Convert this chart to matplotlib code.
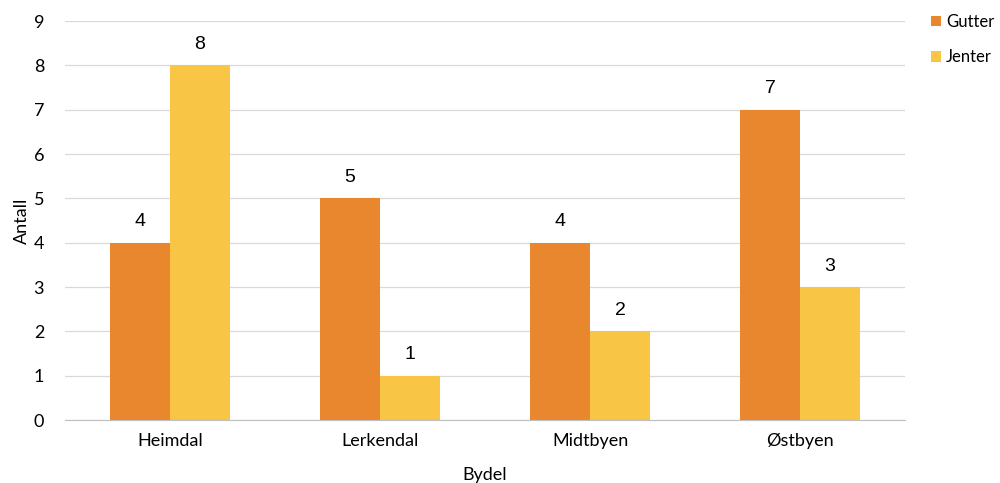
import numpy as np
import matplotlib.pyplot as plt

# data
bydeler = ["Heimdal", "Lerkendal", "Midtbyen", "Østbyen"]
gutter = [4, 5, 4, 7]
jenter = [8, 1, 2, 3]

orange = "#E8872D"
yellow = "#F8C544"
fs = 13

fig = plt.figure(figsize=(10, 4.83), dpi=100)
ax = fig.add_axes([0.065, 0.1304, 0.84, 0.8261])

x = np.arange(len(bydeler))
w = 0.2857
b1 = ax.bar(x - w / 2, gutter, w, color=orange, label="Gutter")
b2 = ax.bar(x + w / 2, jenter, w, color=yellow, label="Jenter")

for bars in (b1, b2):
    for r in bars:
        ax.annotate(
            str(int(r.get_height())),
            xy=(r.get_x() + r.get_width() / 2, r.get_height()),
            xytext=(0, 9),
            textcoords="offset points",
            ha="center",
            va="bottom",
            fontsize=14,
            family="Liberation Sans",
        )

ax.set_xlim(-0.5, len(bydeler) - 0.5)
ax.set_ylim(0, 9)
ax.set_yticks(range(10))
ax.set_xticks(x)
ax.set_xticklabels(bydeler, family="Lato", fontsize=fs)
for t in ax.get_yticklabels():
    t.set_family("Lato")
    t.set_fontsize(fs)
ax.yaxis.grid(True, color="#D9D9D9", lw=0.9)
ax.set_axisbelow(True)
for s in ["top", "right", "left"]:
    ax.spines[s].set_visible(False)
ax.spines["bottom"].set_color("#BFBFBF")
ax.tick_params(length=0, pad=9, colors="#000000")
ax.tick_params(axis="y", pad=15)

ax.set_xlabel("Bydel", family="Lato", fontsize=fs, labelpad=13)
ax.set_ylabel("Antall", family="Lato", fontsize=fs, labelpad=3)

ax.legend(
    loc="upper left",
    bbox_to_anchor=(1.013, 1.055),
    frameon=False,
    prop={"family": "Lato", "size": 12},
    handlelength=0.6,
    handleheight=0.6,
    handletextpad=0.3,
    labelspacing=1.15,
)

fig.savefig("out.png", dpi=100)
